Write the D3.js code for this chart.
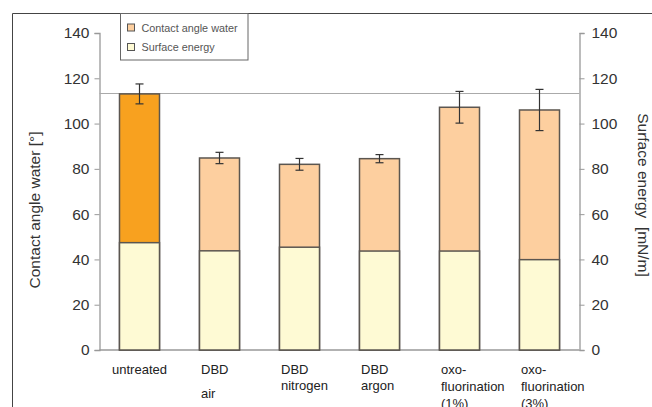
<!DOCTYPE html>
<html>
<head>
<meta charset="utf-8">
<script src="https://cdn.jsdelivr.net/npm/d3@7"></script>
<style>
  html, body { margin: 0; padding: 0; background: #fff; }
  svg { display: block; font-family: "Liberation Sans", Arial, sans-serif; }
</style>
</head>
<body>
<svg id="chart" width="652" height="407"></svg>
<script>
// ---- data ----
const categories = ["untreated", "DBD air", "DBD nitrogen", "DBD argon", "oxo-fluorination (1%)", "oxo-fluorination (3%)"];
const categoryLabelLines = [["untreated"], ["DBD", "air"], ["DBD", "nitrogen"], ["DBD", "argon"], ["oxo-", "fluorination", "(1%)"], ["oxo-", "fluorination", "(3%)"]];
const contactAngle = [113.1, 84.8, 82.0, 84.5, 107.2, 106.0];
const contactAngleErr = [4.4, 2.5, 2.6, 1.8, 7.0, 9.1];
const surfaceEnergy = [47.4, 43.8, 45.4, 43.7, 43.7, 39.9];
const referenceValue = 113.4;
const yTicks = [0, 20, 40, 60, 80, 100, 120, 140];
const seriesNames = ["Contact angle water", "Surface energy"];
const leftTitle = "Contact angle water [°]";
const rightTitle = "Surface energy  [mN/m]";

// ---- layout ----
const svg = d3.select("#chart");
const plotLeft = 99.5, plotRight = 579.5, plotTop = 33, plotBottom = 350;
const x = d3.scaleBand().domain(categories).range([plotLeft, plotRight]).paddingInner(0.5).paddingOuter(0.25);
const y = d3.scaleLinear().domain([0, 140]).range([plotBottom, plotTop]);
const yR = d3.scaleLinear().domain([0, 140]).range([plotBottom, plotTop]);

const colUntreated = "#f8a11f", colContact = "#fdcf9f", colSurface = "#fefad4", barStroke = "#5b5650";

// outer frame (partial, as in reference)
svg.append("line").attr("x1", 12.5).attr("x2", 652).attr("y1", 13.5).attr("y2", 13.5).attr("stroke", "#444").attr("stroke-width", 1);
svg.append("line").attr("x1", 12.5).attr("x2", 12.5).attr("y1", 13.5).attr("y2", 407).attr("stroke", "#444").attr("stroke-width", 1);

// axes
const axisColor = "#999";
const gL = svg.append("g").attr("transform", `translate(${plotLeft},0)`)
  .call(d3.axisLeft(y).tickValues(yTicks).tickSize(5).tickPadding(5));
const gR = svg.append("g").attr("transform", `translate(${plotRight},0)`)
  .call(d3.axisRight(yR).tickValues(yTicks).tickSize(5).tickPadding(7));
[gL, gR].forEach(g => {
  g.select(".domain").attr("stroke", axisColor).attr("stroke-width", 1.3);
  g.selectAll(".tick line").attr("stroke", axisColor);
  g.selectAll(".tick text").attr("fill", "#333").style("font-size", "15.5px").style("font-family", "'Liberation Sans', Arial, sans-serif");
});
svg.append("line").attr("x1", plotLeft).attr("x2", plotRight).attr("y1", y(0)).attr("y2", y(0))
  .attr("stroke", axisColor).attr("stroke-width", 1.3);

// reference line
svg.append("line").attr("x1", plotLeft).attr("x2", plotRight)
  .attr("y1", Math.round(y(referenceValue)) + 0.5).attr("y2", Math.round(y(referenceValue)) + 0.5)
  .attr("stroke", "#aaa").attr("stroke-width", 1);

// bars: contact angle (behind), surface energy (front)
svg.append("g").selectAll("rect").data(categories).join("rect")
  .attr("x", d => x(d)).attr("width", x.bandwidth())
  .attr("y", (d, i) => y(contactAngle[i])).attr("height", (d, i) => y(0) - y(contactAngle[i]))
  .attr("fill", (d, i) => i === 0 ? colUntreated : colContact)
  .attr("stroke", barStroke).attr("stroke-width", 1.5);
svg.append("g").selectAll("rect").data(categories).join("rect")
  .attr("x", d => x(d)).attr("width", x.bandwidth())
  .attr("y", (d, i) => y(surfaceEnergy[i])).attr("height", (d, i) => y(0) - y(surfaceEnergy[i]))
  .attr("fill", colSurface)
  .attr("stroke", barStroke).attr("stroke-width", 1.5);

// error bars
const eg = svg.append("g").attr("stroke", "#333").attr("stroke-width", 1.2);
categories.forEach((c, i) => {
  const cx = x(c) + x.bandwidth() / 2;
  const hi = y(contactAngle[i] + contactAngleErr[i]), lo = y(contactAngle[i] - contactAngleErr[i]);
  eg.append("line").attr("x1", cx).attr("x2", cx).attr("y1", hi).attr("y2", lo);
  eg.append("line").attr("x1", cx - 4).attr("x2", cx + 4).attr("y1", hi).attr("y2", hi);
  eg.append("line").attr("x1", cx - 4).attr("x2", cx + 4).attr("y1", lo).attr("y2", lo);
});

// category labels (third lines are cut off by the bottom edge, as in the reference)
const lineBaselines = { 1: [374], 2: [374, 390], 3: [374, 391, 408] };
const xl = svg.append("g").style("font-size", "13px").attr("fill", "#222");
categoryLabelLines.forEach((lines, i) => {
  const c = categories[i];
  if (lines.length === 1) {
    xl.append("text").attr("x", x(c) + x.bandwidth() / 2).attr("y", lineBaselines[1][0])
      .attr("text-anchor", "middle").text(lines[0]);
  } else {
    lines.forEach((t, j) => {
      let by = lineBaselines[lines.length][j];
      if (lines.length === 2 && j === 1 && t === "air") by = 398;
      xl.append("text").attr("x", x(c) + 1.5).attr("y", by).attr("text-anchor", "start").text(t);
    });
  }
});

// axis titles
svg.append("text").attr("transform", `translate(40,210) rotate(-90)`)
  .attr("text-anchor", "middle").style("font-size", "15.5px").attr("fill", "#333").text(leftTitle);
svg.append("text").attr("transform", `translate(638,195) rotate(90)`)
  .attr("text-anchor", "middle").style("font-size", "15.5px").attr("fill", "#333")
  .attr("xml:space", "preserve").style("white-space", "pre").text(rightTitle);

// legend
const lg = svg.append("g");
lg.append("rect").attr("x", 120.5).attr("y", 13.5).attr("width", 127.5).attr("height", 46.5)
  .attr("fill", "#fff").attr("stroke", "#666").attr("stroke-width", 1);
const legendFills = [colContact, colSurface];
seriesNames.forEach((n, i) => {
  const yy = 24 + i * 19.5;
  lg.append("rect").attr("x", 127.5).attr("y", yy).attr("width", 7).attr("height", 7)
    .attr("fill", legendFills[i]).attr("stroke", "#555").attr("stroke-width", 1);
  lg.append("text").attr("x", 141.5).attr("y", yy + 7.5).style("font-size", "10.8px").attr("fill", "#555").text(n);
});
</script>
</body>
</html>
